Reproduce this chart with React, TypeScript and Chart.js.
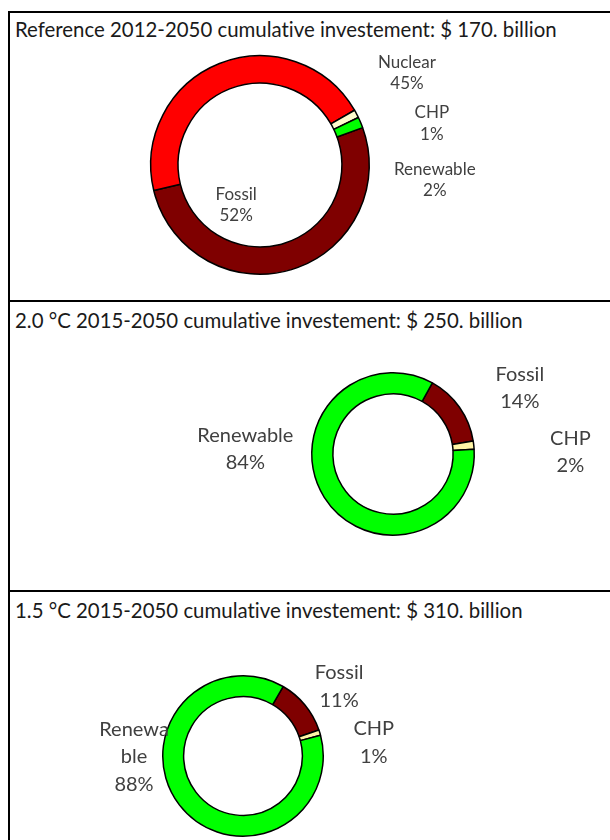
import React, { useEffect, useRef } from "react";
import { Chart, registerables } from "chart.js";

Chart.register(...registerables);

// ---------- data ----------
const categories = ["Fossil", "Nuclear", "CHP", "Renewable"];
const referenceShares = [51.8, 45.4, 1.2, 1.6];
const twoDegreeShares = [14.4, 0, 1.6, 84.0];
const onePointFiveShares = [11.4, 0, 1.1, 87.5];
const panelTitles = [
  "Reference 2012-2050 cumulative investement: $ 170. billion",
  "2.0 °C 2015-2050 cumulative investement: $ 250. billion",
  "1.5 °C 2015-2050 cumulative investement: $ 310. billion",
];

// ---------- style ----------
const FONT = "Lato, 'Open Sans', sans-serif";
const sliceColors = ["#7F0000", "#FF0000", "#FFF5A6", "#00FF00"];
const sliceColorsRef = ["#7F0000", "#FF0000", "#FFFACD", "#00FF00"];

function wrapText(ctx: CanvasRenderingContext2D, text: string, maxWidth: number): string[] {
  if (!maxWidth || ctx.measureText(text).width <= maxWidth) return [text];
  const out: string[] = [];
  let cur = "";
  for (const ch of text) {
    if (cur && ctx.measureText(cur + ch).width > maxWidth) {
      out.push(cur);
      cur = ch;
    } else cur += ch;
  }
  if (cur) out.push(cur);
  return out;
}

const sliceLabels = {
  id: "sliceLabels",
  afterDatasetsDraw(chart: any, _args: any, opts: any) {
    const ctx: CanvasRenderingContext2D = chart.ctx;
    const meta = chart.getDatasetMeta(0);
    const data: number[] = chart.data.datasets[0].data;
    const total = data.reduce((a, b) => a + b, 0);
    ctx.save();
    ctx.font = `${opts.size}px ${opts.family}`;
    ctx.fillStyle = opts.color;
    ctx.textAlign = "center";
    ctx.textBaseline = "middle";
    meta.data.forEach((arc: any, i: number) => {
      const v = data[i];
      const place = opts.places[i];
      if (!v || !place) return;
      const { x, y, outerRadius } = arc.getProps(["x", "y", "outerRadius"], true);
      const lines = [
        ...wrapText(ctx, String(chart.data.labels[i]), opts.maxWidth),
        `${Math.round((v / total) * 100)}%`,
      ];
      const cx = x + place[0] * outerRadius;
      const cy = y + place[1] * outerRadius;
      const n = lines.length;
      lines.forEach((t, k) => ctx.fillText(t, cx, cy + (k - (n - 1) / 2) * opts.lineHeight));
    });
    ctx.restore();
  },
};

type PanelProps = {
  title: string;
  shares: number[];
  colors: string[];
  rotation: number;
  cutout: string;
  top: number;
  height: number;
  canvasHeight: number;
  padding: { left: number; top: number; right: number; bottom: number };
  label: { size: number; lineHeight: number; maxWidth: number; places: (number[] | null)[] };
  titleTop: number;
};

function DonutPanel(p: PanelProps) {
  const ref = useRef<HTMLCanvasElement | null>(null);
  useEffect(() => {
    if (!ref.current) return;
    const chart = new Chart(ref.current, {
      type: "doughnut",
      data: {
        labels: categories,
        datasets: [
          {
            data: p.shares,
            backgroundColor: p.colors,
            borderColor: "#000000",
            borderWidth: 1.5,
          },
        ],
      },
      options: {
        responsive: false,
        animation: false,
        events: [],
        rotation: p.rotation,
        cutout: p.cutout,
        layout: { padding: p.padding },
        plugins: {
          legend: { display: false },
          tooltip: { enabled: false },
          sliceLabels: {
            size: p.label.size,
            lineHeight: p.label.lineHeight,
            maxWidth: p.label.maxWidth,
            places: p.label.places,
            family: FONT,
            color: "#404040",
          },
        } as any,
      },
      plugins: [sliceLabels as any],
    });
    return () => chart.destroy();
  }, []);
  return (
    <>
      <div
        style={{
          position: "absolute",
          left: 8,
          top: p.top,
          width: 700,
          height: p.height,
          border: "2px solid #000",
          boxSizing: "border-box",
        }}
      />
      <div
        style={{
          position: "absolute",
          left: 15,
          top: p.titleTop,
          font: `20.4px ${FONT}`,
          lineHeight: "24px",
          color: "#1a1a1a",
          whiteSpace: "nowrap",
          fontVariantLigatures: "none",
        }}
      >
        {p.title}
      </div>
      <canvas
        ref={ref}
        width={600}
        height={p.canvasHeight}
        style={{ position: "absolute", left: 10, top: p.top + 2, width: 600, height: p.canvasHeight }}
      />
    </>
  );
}

export default function App() {
  return (
    <div
      style={{
        position: "absolute",
        left: 0,
        top: 0,
        width: 610,
        height: 840,
        overflow: "hidden",
        background: "#fff",
      }}
    >
      <DonutPanel
        title={panelTitles[0]}
        shares={referenceShares}
        colors={sliceColorsRef}
        rotation={70}
        cutout="75%"
        top={11}
        height={291}
        canvasHeight={287}
        titleTop={17}
        padding={{ left: 140, top: 42, right: 240, bottom: 25 }}
        label={{
          size: 17,
          lineHeight: 21.5,
          maxWidth: 0,
          places: [
            [-0.218, 0.368],
            [1.345, -0.843],
            [1.573, -0.379],
            [1.6, 0.136],
          ],
        }}
      />
      <DonutPanel
        title={panelTitles[1]}
        shares={twoDegreeShares}
        colors={sliceColors}
        rotation={29}
        cutout="74%"
        top={300}
        height={292}
        canvasHeight={288}
        titleTop={308}
        padding={{ left: 301, top: 70, right: 135, bottom: 54 }}
        label={{
          size: 20,
          lineHeight: 27,
          maxWidth: 0,
          places: [
            [1.561, -0.811],
            null,
            [2.183, -0.024],
            [-1.817, -0.067],
          ],
        }}
      />
      <DonutPanel
        title={panelTitles[2]}
        shares={onePointFiveShares}
        colors={sliceColors}
        rotation={30}
        cutout="74%"
        top={590}
        height={300}
        canvasHeight={248}
        titleTop={598}
        padding={{ left: 152, top: 83, right: 286, bottom: 3 }}
        label={{
          size: 20,
          lineHeight: 27.5,
          maxWidth: 78,
          places: [
            [1.198, -0.864],
            null,
            [1.63, -0.167],
            [-1.358, 0.012],
          ],
        }}
      />
    </div>
  );
}
